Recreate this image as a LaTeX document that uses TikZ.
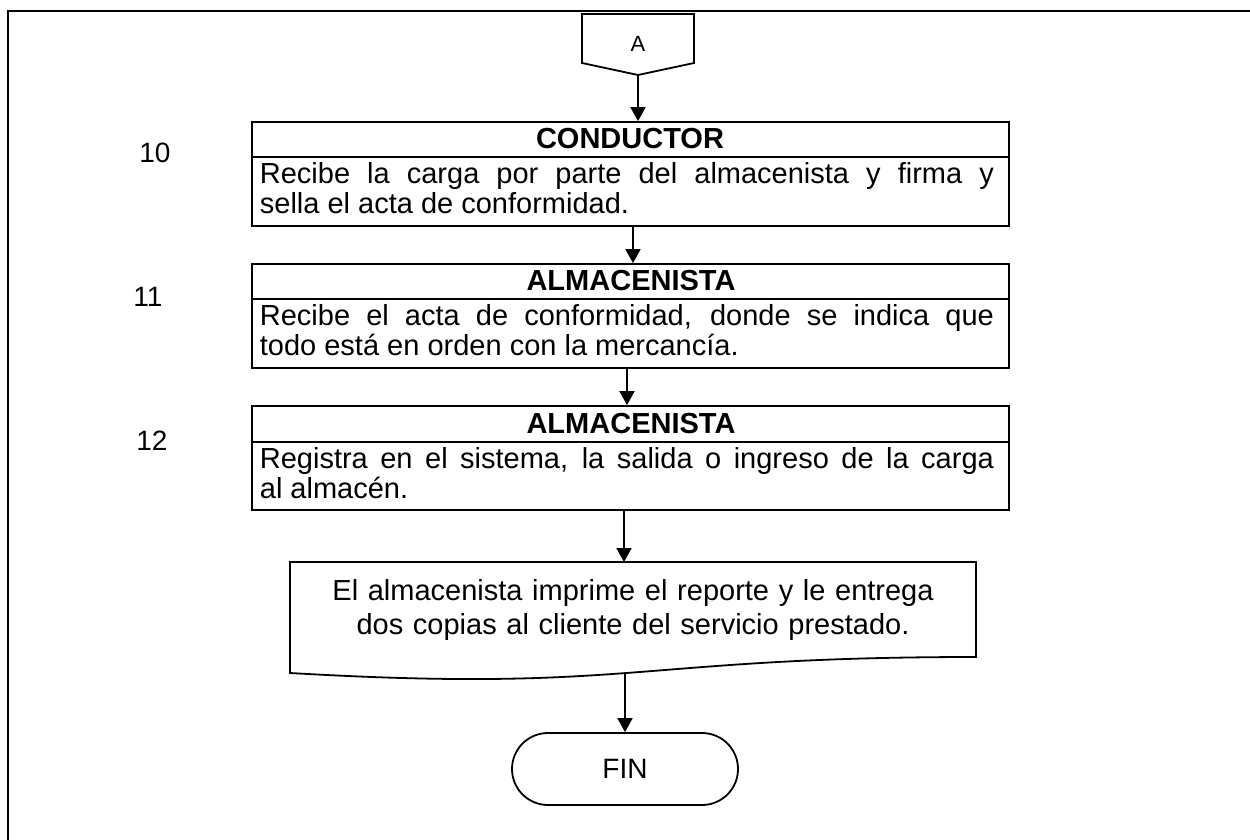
\documentclass[tikz,border=0pt]{standalone}
\usepackage{fontspec}
\setmainfont{Liberation Sans}
\usetikzlibrary{arrows.meta}
\begin{document}
\begin{tikzpicture}[x=1pt,y=-1pt,line width=1.8pt,
  arr/.style={-{Triangle[length=14pt,width=15pt]},line width=1.8pt},
  stepbox/.style={draw,rectangle,minimum width=757pt,minimum height=104pt,inner sep=0pt},
  hdr/.style={font=\fontsize{29}{30}\selectfont\bfseries,inner sep=0pt,anchor=base},
  body/.style={font=\fontsize{29}{30}\selectfont,text width=734pt,align=justify,inner sep=0pt,anchor=base west},
  num/.style={font=\fontsize{28}{30}\selectfont,inner sep=0pt,anchor=base},
  doctext/.style={font=\fontsize{29}{34}\selectfont,text width=680pt,align=center,inner sep=0pt,anchor=base},
  term/.style={draw,rounded corners=36pt,minimum width=226pt,minimum height=72pt,inner sep=0pt,font=\fontsize{28}{30}\selectfont},
]
\useasboundingbox (0,0) rectangle (1250,840);
% outer frame (only left and top edges visible)
\draw (8,860) -- (8,11) -- (1270,11);

% off-page connector A
\draw (582,14) -- (694,14) -- (694,63) -- (638,75) -- (582,63) -- cycle;
\node[font=\fontsize{22}{24}\selectfont,inner sep=0pt] (A) at (638,44) {A};
\coordinate (Atip) at (638,75);

% step numbers
\node[num] (n10) at (155,162) {10};
\node[num] (n11) at (148,306) {11};
\node[num] (n12) at (152,450) {12};

% box 1
\node[stepbox] (b1) at (630.5,174) {};
\draw (b1.west |- 0,157) -- (b1.east |- 0,157);
\node[hdr] (h1) at (630,148.5) {CONDUCTOR};
\node[body] (t1) at (259,183) {Recibe la carga por parte del almacenista y firma y\linebreak sella el acta de conformidad.};

% box 2
\node[stepbox] (b2) at (630.5,316) {};
\draw (b2.west |- 0,299) -- (b2.east |- 0,299);
\node[hdr] (h2) at (631,290.5) {ALMACENISTA};
\node[body] (t2) at (259,325) {Recibe el acta de conformidad, donde se indica que\linebreak todo está en orden con la mercancía.};

% box 3
\node[stepbox] (b3) at (630.5,458) {};
\draw (b3.west |- 0,442) -- (b3.east |- 0,442);
\node[hdr] (h3) at (631,433.5) {ALMACENISTA};
\node[body] (t3) at (259,468) {Registra en el sistema, la salida o ingreso de la carga\linebreak al almacén.};

% document shape
\draw (290,562) -- (976,562) -- (976,657) .. controls (633,657) and (633,693) .. (290,673) -- cycle;
\coordinate (doctop) at (624,562);
\coordinate (docbot) at (625,673);
\node[doctext] (doc) at (633,600) {El almacenista imprime el reporte y le entrega\\dos copias al cliente del servicio prestado.};

% terminator
\node[term] (fin) at (625,769) {\raisebox{-3pt}{FIN}};

% connectors
\draw[arr] (Atip) -- (Atip |- b1.north);
\draw[arr] (b1.south -| 633,0) -- (b2.north -| 633,0);
\draw[arr] (b2.south -| 627,0) -- (b3.north -| 627,0);
\draw[arr] (b3.south -| doctop) -- (doctop);
\draw[arr] (docbot) -- (docbot |- fin.north);
\end{tikzpicture}
\end{document}
